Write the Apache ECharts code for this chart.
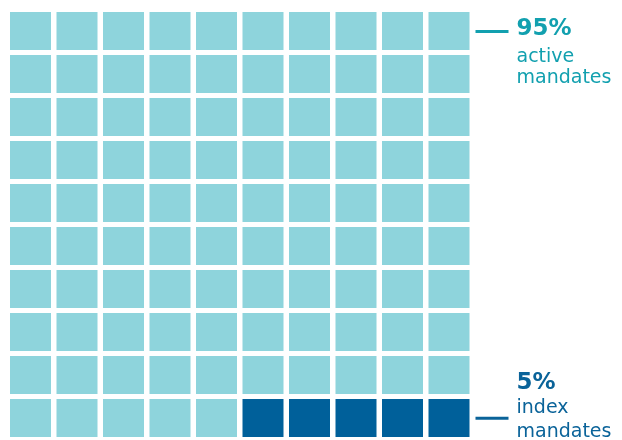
<!DOCTYPE html>
<html>
<head>
<meta charset="utf-8">
<script src="https://cdn.jsdelivr.net/npm/echarts@6/dist/echarts.min.js"></script>
<style>
  html, body { margin: 0; padding: 0; background: #ffffff; }
  #chart { width: 622px; height: 440px; }
</style>
</head>
<body>
<div id="chart"></div>
<script>
// ---- data ----
const columns = ['1', '2', '3', '4', '5', '6', '7', '8', '9', '10'];
const rows = ['1', '2', '3', '4', '5', '6', '7', '8', '9', '10'];
const segmentNames = ['active mandates', 'index mandates'];
const segmentShares = [95, 5];
const segmentPercentLabels = ['95%', '5%'];

// ---- styles ----
const cellColors = ['#8ed4dc', '#00609a'];
const textColors = ['#12a0af', '#0a6399'];
const FONT = '"DejaVu Sans", "Open Sans", Arial, sans-serif';

// build one cell per unit share, filled row by row from the top left
const cells = [];
let seg = 0, used = 0;
for (let i = 0; i < rows.length * columns.length; i++) {
  while (used >= segmentShares[seg]) { seg++; used = 0; }
  cells.push([i % columns.length, Math.floor(i / columns.length), seg]);
  used++;
}

const GAP_X = 5.5, GAP_Y = 5;
const chart = echarts.init(document.getElementById('chart'), null, { renderer: 'canvas' });
chart.setOption({
  animation: false,
  grid: { left: 7.25, right: 149.75, top: 9.5, bottom: 0.5 },
  xAxis: { type: 'category', data: columns, show: false },
  yAxis: { type: 'category', data: rows, inverse: true, show: false },
  series: [{
    type: 'custom',
    data: cells,
    renderItem: function (params, api) {
      const c = api.coord([api.value(0), api.value(1)]);
      const s = api.size([1, 1]);
      const w = s[0] - GAP_X, h = s[1] - GAP_Y;
      return {
        type: 'rect',
        shape: { x: c[0] - w / 2, y: c[1] - h / 2, width: w, height: h },
        style: { fill: cellColors[api.value(2)] }
      };
    }
  }]
});

// annotation labels anchored to the grid cells
const topPt = chart.convertToPixel({ seriesIndex: 0 }, [columns.length - 1, 0]);
const botPt = chart.convertToPixel({ seriesIndex: 0 }, [columns.length - 1, rows.length - 1]);
const cellW = chart.getModel().getComponent('xAxis', 0).axis.getBandWidth() - GAP_X;
const rightEdge = topPt[0] + cellW / 2;
const lineX1 = rightEdge + 6, lineX2 = rightEdge + 39, textX = rightEdge + 47;

function words(name) { return name.split(' '); }
const topWords = words(segmentNames[0]);
const botWords = words(segmentNames[1]);

function txt(t, x, y, size, weight, color) {
  return {
    type: 'text', x: x, y: y,
    style: { text: t, fill: color, font: weight + ' ' + size + 'px ' + FONT, verticalAlign: 'middle', align: 'left' }
  };
}
chart.setOption({
  graphic: [
    { type: 'line', shape: { x1: lineX1, y1: topPt[1] + 0.5, x2: lineX2, y2: topPt[1] + 0.5 }, style: { stroke: textColors[0], lineWidth: 3 } },
    txt(segmentPercentLabels[0], textX, topPt[1] - 1.5, 23, 'bold', textColors[0]),
    txt(topWords[0], textX, topPt[1] + 26, 19, 'normal', textColors[0]),
    txt(topWords[1], textX, topPt[1] + 46.8, 19, 'normal', textColors[0]),
    { type: 'line', shape: { x1: lineX1, y1: botPt[1] + 0.3, x2: lineX2, y2: botPt[1] + 0.3 }, style: { stroke: textColors[1], lineWidth: 3 } },
    txt(segmentPercentLabels[1], textX, botPt[1] - 34.5, 23, 'bold', textColors[1]),
    txt(botWords[0], textX, botPt[1] - 9.8, 19, 'normal', textColors[1]),
    txt(botWords[1], textX, botPt[1] + 14.2, 19, 'normal', textColors[1])
  ]
});
</script>
</body>
</html>
